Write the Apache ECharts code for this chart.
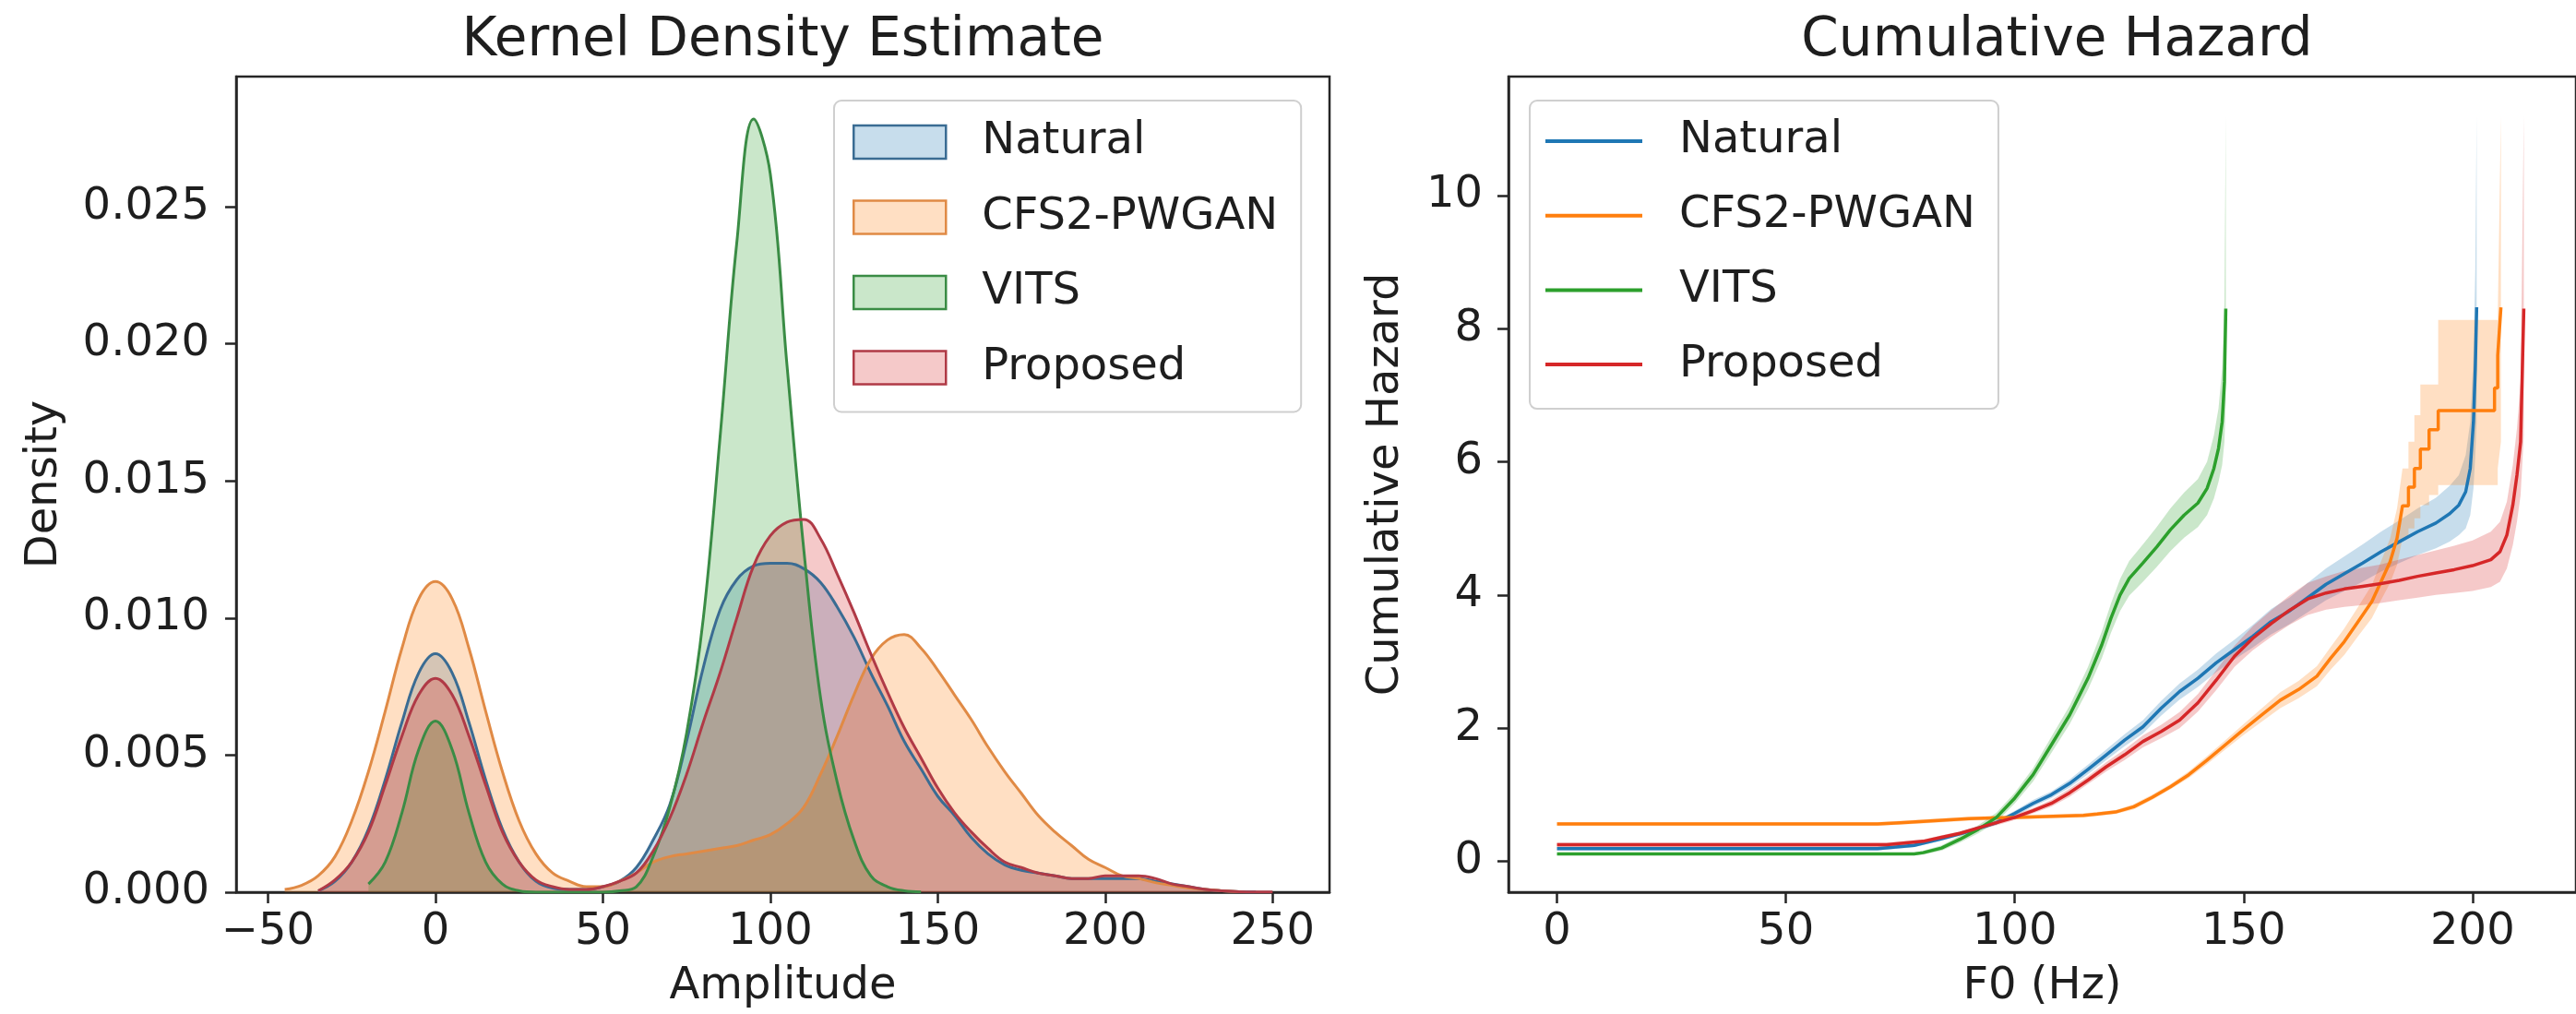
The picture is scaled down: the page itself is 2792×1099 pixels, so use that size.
<!DOCTYPE html>
<html><head><meta charset="utf-8">
<script src="https://cdn.jsdelivr.net/npm/echarts@6/dist/echarts.min.js"></script>
<style>html,body{margin:0;padding:0;background:#fff;}#c{width:2792px;height:1099px;}</style>
</head><body><div id="c"></div>
<script>
// ---------- names & colours ----------
const names = ['Natural', 'CFS2-PWGAN', 'VITS', 'Proposed'];
const colors = ['#1f77b4', '#ff7f0e', '#2ca02c', '#d62728'];
const edgeColors = ['#3a6c93', '#e08a45', '#3a8c45', '#b03a46'];
const fillColors = ['rgba(31,119,180,0.25)', 'rgba(255,127,14,0.25)', 'rgba(44,160,44,0.25)', 'rgba(214,39,40,0.25)'];

// ---------- Kernel density estimate (Amplitude grid) ----------
const kdeX = [-45,-40,-35,-30,-25,-20,-15,-10,-5,0,5,10,15,20,25,30,35,40,45,50,55,60,65,70,75,80,85,90,95,100,105,110,115,120,125,130,135,140,145,150,155,160,165,170,175,180,185,190,195,200,205,210,215,220,225,230,235,240,245,250];
const kdeNatural = [null,null,0.00005,0.0004,0.0011,0.0023,0.0041,0.0062,0.0080,0.0087,
  0.0080,0.0062,0.0041,0.0023,0.0011,0.0004,0.00015,0.0001,0.0001,0.0002,
  0.0004,0.0009,0.0019,0.0032,0.0055,0.0082,0.0103,0.0114,0.0119,0.0120,
  0.0120,0.0118,0.0113,0.0104,0.0093,0.0080,0.0068,0.0055,0.0045,0.0035,
  0.0028,0.0020,0.0014,0.0010,0.0008,0.0007,0.0006,0.0005,0.0005,0.0005,
  0.0005,0.0005,0.0004,0.0003,0.0002,0.0001,0.00005,0.00002,0.00001,null];
const kdeCfs = [0.0001,0.00025,0.0006,0.0013,0.0026,0.0044,0.0066,0.0089,0.0107,0.01133,
  0.0107,0.0089,0.0066,0.0044,0.0026,0.0014,0.0007,0.0004,0.0002,0.0002,
  0.0004,0.0007,0.0011,0.0013,0.0014,0.0015,0.0016,0.0017,0.0019,0.0021,
  0.0025,0.0031,0.0043,0.0057,0.0072,0.0085,0.0092,0.0094,0.0089,0.0081,
  0.0072,0.0063,0.0053,0.0044,0.0036,0.0028,0.0022,0.0017,0.0012,0.0009,
  0.0006,0.0005,0.00035,0.00025,0.00015,0.0001,0.00005,0.00002,null,null];
const kdeVits = [null,null,null,null,null,0.0003,0.0011,0.0029,0.0052,0.00624,
  0.0052,0.0029,0.0011,0.0003,0.00005,0,0,0,0,0,
  0.00005,0.0002,0.0013,0.0031,0.0058,0.0100,0.0166,0.0237,0.0282,0.0262,
  0.0192,0.0125,0.0071,0.0040,0.0019,0.0006,0.0002,0.00005,0.00001,null,
  null,null,null,null,null,null,null,null,null,null,
  null,null,null,null,null,null,null,null,null,null];
const kdeProposed = [null,null,0.00005,0.00045,0.0011,0.0022,0.0039,0.0057,0.0072,0.0078,
  0.0072,0.0057,0.0039,0.0022,0.0011,0.00045,0.0002,0.0001,0.0001,0.0002,
  0.0004,0.0007,0.0015,0.0027,0.0043,0.0062,0.0080,0.0100,0.0119,0.0130,
  0.0135,0.0136,0.0129,0.0116,0.0102,0.0087,0.0073,0.0060,0.0049,0.0038,
  0.0029,0.0022,0.0016,0.0011,0.0009,0.0007,0.0006,0.0005,0.0005,0.0006,
  0.0006,0.0006,0.0005,0.0003,0.0002,0.0001,0.00005,0.00002,0.00001,0.00001];

const kdeXTicks = [-50, 0, 50, 100, 150, 200, 250];
const kdeYTicks = [0, 0.005, 0.010, 0.015, 0.020, 0.025];

// ---------- Cumulative hazard (F0 in Hz) ----------
const natHzX  = [0,70,78,84,90,96,100,104,108,112,116,120,124,128,132,136,140,144,148,152,156,160,164,168,172,176,180,184,188,192,195,197,198.5,199.5,200.2,200.6,200.9];
const natHzY  = [0.19,0.19,0.24,0.34,0.45,0.58,0.72,0.87,1.0,1.17,1.38,1.6,1.82,2.02,2.3,2.55,2.75,2.98,3.18,3.38,3.6,3.76,3.96,4.16,4.32,4.48,4.65,4.8,4.95,5.08,5.22,5.35,5.55,5.9,6.6,7.4,8.32];
const natHzLo = [0.16,0.16,0.21,0.31,0.42,0.55,0.68,0.82,0.95,1.11,1.31,1.52,1.73,1.92,2.19,2.43,2.62,2.84,3.03,3.21,3.41,3.56,3.74,3.92,4.06,4.2,4.35,4.48,4.6,4.7,4.8,4.9,5.0,5.2,5.6,6.1,6.6];
const natHzHi = [0.22,0.22,0.27,0.37,0.48,0.61,0.76,0.92,1.05,1.23,1.45,1.68,1.91,2.12,2.41,2.67,2.88,3.12,3.33,3.55,3.79,3.96,4.18,4.4,4.58,4.76,4.95,5.12,5.3,5.46,5.64,5.8,6.1,6.6,7.6,8.9,11.2];

const cfsHzX  = [0,70,75,80,85,90,95,100,105,110,115,118,122,126,130,134,138,142,146,150,154,158,162,166,169,172,175,178,180,182,183.5,184.7,186,186,187.3,187.3,188.6,188.6,190.5,190.5,192.5,192.5,204.8,204.8,205.5,205.5,206.2];
const cfsHzY  = [0.56,0.56,0.58,0.6,0.62,0.64,0.65,0.66,0.67,0.68,0.69,0.71,0.74,0.82,0.96,1.12,1.3,1.52,1.75,1.98,2.2,2.42,2.58,2.78,3.05,3.3,3.6,3.9,4.2,4.5,4.85,5.34,5.34,5.62,5.62,5.9,5.9,6.19,6.19,6.48,6.48,6.77,6.77,7.11,7.11,7.6,8.32];
const cfsHzLo = [0.53,0.53,0.55,0.57,0.59,0.61,0.62,0.63,0.64,0.65,0.66,0.68,0.71,0.78,0.92,1.08,1.25,1.46,1.68,1.9,2.1,2.3,2.45,2.63,2.88,3.1,3.38,3.65,3.92,4.18,4.45,4.85,4.85,5.0,5.0,5.15,5.15,5.35,5.35,5.5,5.5,5.65,5.65,5.65,5.65,5.9,6.3];
const cfsHzHi = [0.59,0.59,0.61,0.63,0.65,0.67,0.68,0.69,0.7,0.71,0.72,0.74,0.77,0.86,1.0,1.16,1.35,1.58,1.82,2.06,2.3,2.54,2.71,2.93,3.22,3.5,3.82,4.15,4.5,4.85,5.3,5.9,5.9,6.3,6.3,6.7,6.7,7.16,7.16,7.16,7.16,8.13,8.13,8.13,8.13,8.13,11.2];

const vitsHzX  = [0,78,80,84,88,92,96,100,104,108,112,116,119,121,123,125,128,131,134,137,140,142,143.5,144.5,145.3,145.8,146.1];
const vitsHzY  = [0.11,0.11,0.13,0.2,0.33,0.48,0.66,0.95,1.3,1.75,2.2,2.75,3.25,3.65,4.0,4.25,4.48,4.72,4.98,5.2,5.38,5.6,5.9,6.2,6.6,7.2,8.3];
const vitsHzLo = [0.09,0.09,0.1,0.16,0.28,0.42,0.59,0.87,1.2,1.63,2.06,2.58,3.05,3.43,3.76,3.99,4.2,4.42,4.66,4.86,5.02,5.2,5.45,5.7,5.95,6.3,6.9];
const vitsHzHi = [0.13,0.13,0.16,0.24,0.38,0.54,0.73,1.03,1.4,1.87,2.34,2.92,3.45,3.87,4.24,4.51,4.76,5.02,5.3,5.54,5.74,6.0,6.4,6.8,7.4,8.4,11.2];

const propHzX  = [0,72,80,84,88,92,96,100,104,108,112,116,120,124,128,132,136,140,144,148,152,156,160,164,168,172,176,180,184,188,192,196,200,204,206,207.5,208.8,209.7,210.5,211.2];
const propHzY  = [0.25,0.25,0.3,0.36,0.42,0.5,0.58,0.66,0.76,0.87,1.03,1.22,1.42,1.6,1.8,1.95,2.12,2.38,2.72,3.08,3.35,3.57,3.77,3.94,4.03,4.09,4.13,4.17,4.22,4.28,4.33,4.38,4.44,4.53,4.65,4.9,5.35,5.8,6.3,8.3];
const propHzLo = [0.22,0.22,0.27,0.33,0.39,0.47,0.54,0.62,0.72,0.82,0.97,1.16,1.35,1.52,1.71,1.85,2.0,2.25,2.57,2.92,3.17,3.37,3.55,3.7,3.78,3.82,3.85,3.88,3.92,3.96,4.0,4.03,4.06,4.12,4.2,4.4,4.75,5.1,5.5,6.4];
const propHzHi = [0.28,0.28,0.33,0.39,0.45,0.53,0.62,0.7,0.8,0.92,1.09,1.28,1.49,1.68,1.89,2.05,2.24,2.51,2.87,3.24,3.53,3.77,3.99,4.18,4.28,4.36,4.41,4.46,4.53,4.6,4.67,4.74,4.82,4.95,5.1,5.4,5.95,6.5,7.2,11.2];

const hzXTicks = [0, 50, 100, 150, 200];
const hzYTicks = [0, 2, 4, 6, 8, 10];

// ---------- build ----------
const FONT = 'DejaVu Sans';
const TXT = '#1e1e1e';
const AX = '#262626';
const chart = echarts.init(document.getElementById('c'), null, {renderer: 'canvas', width: 2792, height: 1099});

const series = [];
[kdeNatural, kdeCfs, kdeVits, kdeProposed].forEach((arr, i) => {
  series.push({
    name: names[i], type: 'line', xAxisIndex: 0, yAxisIndex: 0,
    data: kdeX.map((x, j) => [x, arr[j]]).filter(p => p[1] !== null),
    smooth: 0.4, showSymbol: false, symbol: 'none',
    lineStyle: {color: edgeColors[i], width: 3},
    itemStyle: {color: colors[i]},
    areaStyle: {color: colors[i], opacity: 0.25},
    z: 2
  });
});

const hz = [
  {x: natHzX, y: natHzY, lo: natHzLo, hi: natHzHi},
  {x: cfsHzX, y: cfsHzY, lo: cfsHzLo, hi: cfsHzHi},
  {x: vitsHzX, y: vitsHzY, lo: vitsHzLo, hi: vitsHzHi},
  {x: propHzX, y: propHzY, lo: propHzLo, hi: propHzHi}
];
// confidence bands: one polygon per series, placed through the axis scales
hz.forEach((h, i) => {
  series.push({
    name: 'ci-' + i, type: 'custom', xAxisIndex: 1, yAxisIndex: 1, z: 1, clip: true, silent: true,
    data: [[h.x[0], h.y[0]]],
    encode: {x: 0, y: 1},
    renderItem: (params, api) => {
      const pts = [];
      for (let j = 0; j < h.x.length; j++) pts.push(api.coord([h.x[j], h.hi[j]]));
      for (let j = h.x.length - 1; j >= 0; j--) pts.push(api.coord([h.x[j], h.lo[j]]));
      return {type: 'polygon', shape: {points: pts}, style: {fill: fillColors[i], stroke: null}};
    }
  });
});
hz.forEach((h, i) => {
  series.push({
    name: 'hz-' + names[i], type: 'line', xAxisIndex: 1, yAxisIndex: 1,
    data: h.x.map((x, j) => [x, h.y[j]]), showSymbol: false, symbol: 'none',
    lineStyle: {color: colors[i], width: 3.5}, itemStyle: {color: colors[i]}, z: 3
  });
});

const tickLabel = {fontFamily: FONT, fontSize: 48, color: TXT};
const nameStyle = {fontFamily: FONT, fontSize: 48, color: TXT};
const axLine = {show: true, onZero: false, lineStyle: {color: AX, width: 2.5}};

const option = {
  animation: false,
  backgroundColor: '#ffffff',
  grid: [
    {left: 256, top: 83, width: 1185, height: 886, show: true, borderColor: AX, borderWidth: 2.5, containLabel: false},
    {left: 1635, top: 83, width: 1189, height: 885, show: true, borderColor: AX, borderWidth: 2.5, containLabel: false}
  ],
  xAxis: [
    {gridIndex: 0, type: 'value', min: -59.5, max: 267,
     axisLine: axLine,
     axisTick: {show: true, length: 12, lineStyle: {color: AX, width: 2.5}, customValues: kdeXTicks},
     axisLabel: Object.assign({customValues: kdeXTicks, margin: 20, formatter: v => String(v).replace('-', '\u2212')}, tickLabel),
     splitLine: {show: false},
     name: 'Amplitude', nameLocation: 'middle', nameGap: 79, nameTextStyle: nameStyle},
    {gridIndex: 1, type: 'value', min: -10.6, max: 222.6,
     axisLine: axLine,
     axisTick: {show: true, length: 12, lineStyle: {color: AX, width: 2.5}, customValues: hzXTicks},
     axisLabel: Object.assign({customValues: hzXTicks, margin: 20}, tickLabel),
     splitLine: {show: false},
     name: 'F0 (Hz)', nameLocation: 'middle', nameGap: 79, nameTextStyle: nameStyle}
  ],
  yAxis: [
    {gridIndex: 0, type: 'value', min: 0, max: 0.02975,
     axisLine: axLine,
     axisTick: {show: true, length: 12, lineStyle: {color: AX, width: 2.5}, customValues: kdeYTicks},
     axisLabel: Object.assign({customValues: kdeYTicks, margin: 29, formatter: v => v.toFixed(3)}, tickLabel),
     splitLine: {show: false},
     name: 'Density', nameLocation: 'middle', nameGap: 183, nameRotate: 90, nameTextStyle: nameStyle},
    {gridIndex: 1, type: 'value', min: -0.464, max: 11.785,
     axisLine: axLine,
     axisTick: {show: true, length: 12, lineStyle: {color: AX, width: 2.5}, customValues: hzYTicks},
     axisLabel: Object.assign({customValues: hzYTicks, margin: 28}, tickLabel),
     splitLine: {show: false},
     name: 'Cumulative Hazard', nameLocation: 'middle', nameGap: 108, nameRotate: 90, nameTextStyle: nameStyle}
  ],
  legend: [
    {data: names.map((n, i) => ({name: n, itemStyle: {color: fillColors[i], borderColor: edgeColors[i], borderWidth: 2.5}})),
     orient: 'vertical', left: 904, top: 109, icon: 'rect', itemWidth: 100, itemHeight: 36, itemGap: 33.5,
     padding: [21, 25, 24, 20], backgroundColor: 'rgba(255,255,255,0.8)', borderColor: '#cfcfcf', borderWidth: 2, borderRadius: 8,
     textStyle: {fontFamily: FONT, fontSize: 48, color: TXT, padding: [0, 0, 0, 34], lineHeight: 40},
     selectedMode: false},
    {data: names.map((n, i) => ({name: 'hz-' + n, itemStyle: {color: colors[i], borderWidth: 0}})),
     formatter: n => n.replace('hz-', ''),
     orient: 'vertical', left: 1658, top: 109, icon: 'rect', itemWidth: 105, itemHeight: 4, itemGap: 32.7,
     padding: [20, 25, 24, 17], backgroundColor: 'rgba(255,255,255,0.8)', borderColor: '#cfcfcf', borderWidth: 2, borderRadius: 8,
     textStyle: {fontFamily: FONT, fontSize: 48, color: TXT, padding: [0, 0, 0, 35], lineHeight: 40},
     selectedMode: false}
  ],
  graphic: [
    {type: 'text', x: 848.5, y: 45, style: {text: 'Kernel Density Estimate', x: 0, y: 0, align: 'center', verticalAlign: 'middle', font: '58px "DejaVu Sans"', fill: TXT}},
    {type: 'text', x: 2229.5, y: 45, style: {text: 'Cumulative Hazard', x: 0, y: 0, align: 'center', verticalAlign: 'middle', font: '58px "DejaVu Sans"', fill: TXT}}
  ],
  series: series
};
chart.setOption(option);
</script>
</body></html>
